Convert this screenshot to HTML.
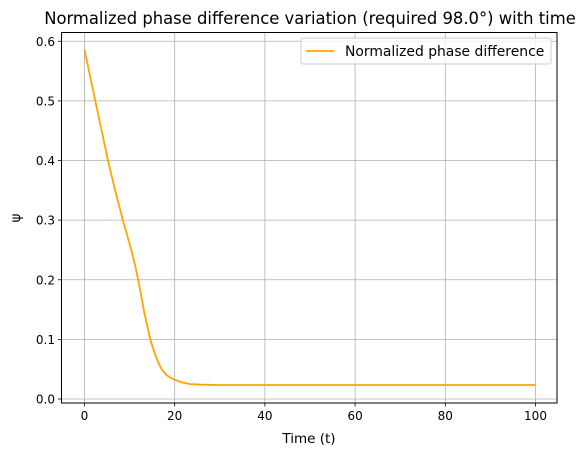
<!DOCTYPE html>
<html><head><meta charset="utf-8"><style>
body{margin:0;background:#fff;font-family:"Liberation Sans","DejaVu Sans",sans-serif}
text{font-family:"DejaVu Sans","Liberation Sans",sans-serif}
</style></head><body>
<svg id="chart" width="588" height="455" xmlns="http://www.w3.org/2000/svg">
<rect width="588" height="455" fill="#fff"/>
<text x="310" y="24" text-anchor="middle" font-size="16.4">Normalized phase difference variation (required 98.0°) with time</text>
<g id="grid"></g>
<g id="ticks"></g>
<polyline id="line" fill="none" stroke="#ffa500" stroke-width="1.8" stroke-linejoin="round"/>
<rect x="61.5" y="32.5" width="495.5" height="370.5" fill="none" stroke="#000" stroke-width="1"/>
<text x="309" y="443" text-anchor="middle" font-size="13.5">Time (t)</text>
<text transform="translate(20,218) rotate(-90)" text-anchor="middle" font-size="13.5">ψ</text>
<g>
<rect x="301" y="38" width="250" height="26" rx="2" fill="#fff" fill-opacity="0.8" stroke="#ccc"/>
<line x1="306" y1="51" x2="334" y2="51" stroke="#ffa500" stroke-width="1.8"/>
<text x="345" y="56" font-size="13.9">Normalized phase difference</text>
</g>
</svg>
<script>
const tVals=[0,1,2.4,3.8,5.2,6.8,8.5,10.2,11.2,11.9,12.7,13.3,14,14.6,15.2,15.7,16.3,16.8,17.5,18.2,19,19.8,21.5,23.5,26,30,40,60,80,100];
const psiVals=[0.586,0.55,0.5,0.45,0.4,0.35,0.3,0.255,0.225,0.2,0.168,0.143,0.12,0.1,0.085,0.074,0.063,0.054,0.046,0.04,0.036,0.033,0.028,0.025,0.024,0.0235,0.0235,0.0235,0.0235,0.0235];
const xTicks=[0,20,40,60,80,100];
const yTicks=[0,0.1,0.2,0.3,0.4,0.5,0.6];
const X=t=>84.5+t*4.51;
const Y=v=>399-v*596.2;
const ns="http://www.w3.org/2000/svg";
const grid=document.getElementById('grid'),ticks=document.getElementById('ticks');
function mk(tag,attrs,parent){const e=document.createElementNS(ns,tag);for(const k in attrs)e.setAttribute(k,attrs[k]);parent.appendChild(e);return e;}
xTicks.forEach(t=>{const x=X(t);
const g=mk('line',{x1:x,x2:x,y1:32.5,y2:403,stroke:'#b0b0b0','stroke-width':0.8},grid);


mk('line',{x1:x,x2:x,y1:403,y2:406.5,stroke:'#000','stroke-width':0.8},ticks);
const l=mk('text',{x:x,y:420,'text-anchor':'middle','font-size':12},ticks);l.textContent=t;

});
yTicks.forEach(v=>{const y=Y(v);
const g=mk('line',{x1:61.5,x2:557,y1:y,y2:y,stroke:'#b0b0b0','stroke-width':0.8},grid);


mk('line',{x1:58,x2:61.5,y1:y,y2:y,stroke:'#000','stroke-width':0.8},ticks);
const l=mk('text',{x:55,y:y+4.5,'text-anchor':'end','font-size':12},ticks);l.textContent=v.toFixed(1);

});
document.getElementById('line').setAttribute('points',tVals.map((t,i)=>X(t)+','+Y(psiVals[i])).join(' '));
</script>
</body></html>
